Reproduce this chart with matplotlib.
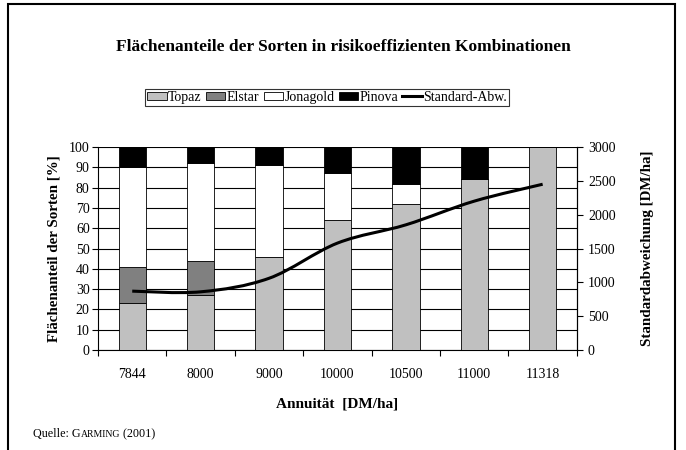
import matplotlib
matplotlib.use("Agg")
import matplotlib.pyplot as plt
import matplotlib.patches as mpatches
from matplotlib.lines import Line2D
from matplotlib.path import Path
from matplotlib.transforms import offset_copy
import numpy as np

plt.rcParams['font.family'] = ['Liberation Serif', 'DejaVu Serif']

# data
annuitaet = ['7844', '8000', '9000', '10000', '10500', '11000', '11318']
topaz = [23, 27, 46, 64, 72, 84, 100]
elstar = [18, 17, 0, 0, 0, 0, 0]
jonagold = [49, 48, 45, 23, 10, 0, 0]
pinova = [10, 8, 9, 13, 18, 16, 0]
std_abw = [870, 860, 1060, 1580, 1850, 2200, 2450]

series = [('Topaz', topaz, '#c0c0c0'),
          ('Elstar', elstar, '#808080'),
          ('Jonagold', jonagold, '#ffffff'),
          ('Pinova', pinova, '#000000')]


def smooth_path(xs, ys, t=1/6):
    # bezier through the points, similar to the smoothed line in the original
    pts = np.column_stack([xs, ys]).astype(float)
    n = len(pts)
    verts = [pts[0]]
    codes = [Path.MOVETO]
    for i in range(n - 1):
        p0 = pts[i - 1] if i > 0 else pts[i]
        p1 = pts[i]
        p2 = pts[i + 1]
        p3 = pts[i + 2] if i + 2 < n else pts[i + 1]
        c1 = p1 + (p2 - p0) * t
        c2 = p2 - (p3 - p1) * t
        verts += [c1, c2, p2]
        codes += [Path.CURVE4] * 3
    return Path(verts, codes)


fig = plt.figure(figsize=(6.86, 4.5), dpi=100)
ax = fig.add_axes([0.1429, 0.2222, 0.698, 0.4511])
ax2 = ax.twinx()

x = np.arange(len(annuitaet))
bottom = np.zeros(len(x))
for name, vals, col in series:
    ax.bar(x, vals, width=0.4, bottom=bottom, color=col,
           edgecolor='black', linewidth=0.6, zorder=3)
    bottom += np.array(vals)

ax.set_xlim(-0.5, len(x) - 0.5)
ax.set_ylim(0, 100)
ax.set_yticks(range(0, 101, 10))
ax.yaxis.grid(True, color='black', linewidth=0.8)
ax.set_axisbelow(True)
ax.set_xticks(x)
ax.set_xticklabels(annuitaet, fontsize=10)
ax.set_xticks(np.arange(-0.5, len(x), 1), minor=True)
ax.tick_params(axis='x', which='major', length=0, pad=13)
ax.tick_params(axis='x', which='minor', length=4, width=0.8, direction='out')
ax.tick_params(axis='y', labelsize=10, length=4, width=0.8, pad=2)
ax.spines['top'].set_visible(False)
ax.spines['left'].set_linewidth(0.8)
ax.spines['bottom'].set_linewidth(0.8)
ax.set_ylabel('Flächenanteil der Sorten [%]', fontsize=10.8, fontweight='bold', labelpad=6)
ax.set_xlabel('Annuität  [DM/ha]', fontsize=11, fontweight='bold', labelpad=12)

ax2.set_ylim(0, 3000)
ax2.set_yticks(range(0, 3001, 500))
ax2.tick_params(axis='y', labelsize=10, length=4, width=0.8, pad=4)
ax2.spines['top'].set_visible(False)
ax2.spines['left'].set_visible(False)
ax2.spines['bottom'].set_visible(False)
ax2.spines['right'].set_linewidth(0.8)
ax2.set_ylabel('Standardabweichung [DM/ha]', fontsize=10.8, fontweight='bold', labelpad=18)
ax2.add_patch(mpatches.PathPatch(smooth_path(x, std_abw), fill=False,
                                 edgecolor='black', linewidth=2.2, zorder=5))

fig.text(0.5, 0.895, 'Flächenanteile der Sorten in risikoeffizienten Kombinationen',
         ha='center', va='center', fontsize=12.5, fontweight='bold')

handles = [mpatches.Patch(facecolor=col, edgecolor='black', linewidth=0.6, label=name)
           for name, vals, col in series]
handles.append(Line2D([], [], color='black', linewidth=2.2, label='Standard-Abw.'))
leg = fig.legend(handles=handles, loc='center', bbox_to_anchor=(0.477, 0.784), ncol=5,
                 fontsize=10, frameon=True, fancybox=False, handlelength=1.4,
                 handleheight=0.55, handletextpad=0.1, columnspacing=0.3,
                 borderpad=0.15, borderaxespad=0)
leg.get_frame().set_edgecolor('black')
leg.get_frame().set_linewidth(0.8)

# source note with small caps name
t1 = fig.text(0.048, 0.028, 'Quelle: G', ha='left', va='baseline', fontsize=8.7)
fig.canvas.draw()
r = fig.canvas.get_renderer()
w1 = t1.get_window_extent(r).width
t2 = fig.text(0.048, 0.028, 'ARMING', ha='left', va='baseline', fontsize=7,
              transform=offset_copy(fig.transFigure, fig, x=w1, units='dots'))
w2 = t2.get_window_extent(r).width
fig.text(0.048, 0.028, ' (2001)', ha='left', va='baseline', fontsize=8.7,
         transform=offset_copy(fig.transFigure, fig, x=w1 + w2, units='dots'))

fig.patches.append(mpatches.Rectangle((0.012, -0.05), 0.972, 1.042, transform=fig.transFigure,
                                      fill=False, edgecolor='black', linewidth=1.5))

fig.savefig('out.png', dpi=100)
